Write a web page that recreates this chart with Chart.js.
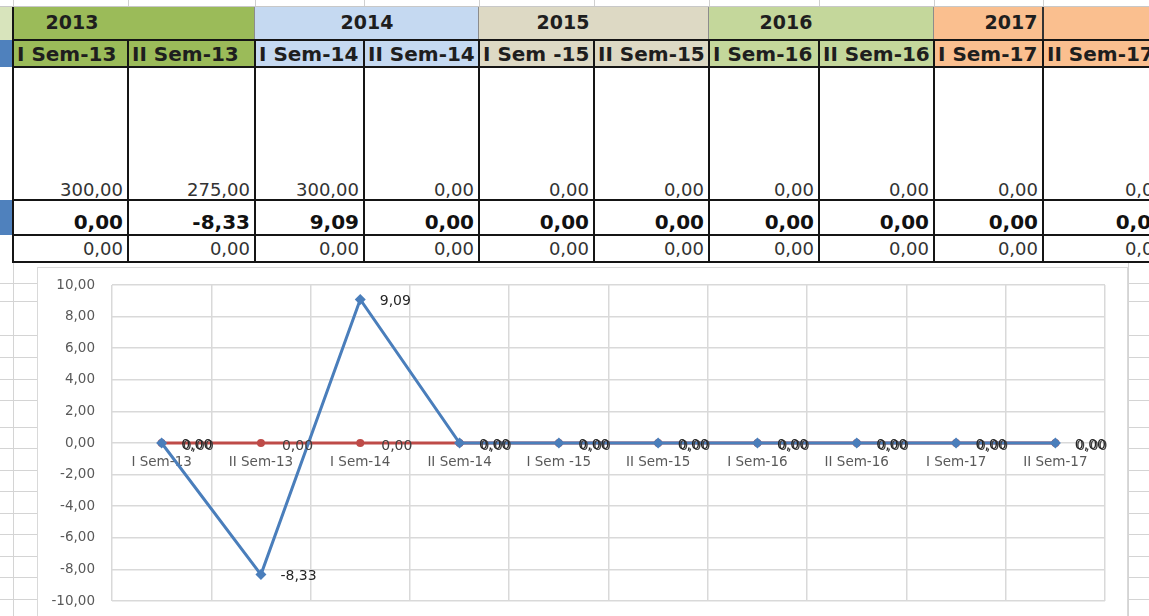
<!DOCTYPE html>
<html>
<head>
<meta charset="utf-8">
<script src="https://cdn.jsdelivr.net/npm/chart.js@4.4.1/dist/chart.umd.min.js"></script>
<style>
    html, body { margin: 0; padding: 0; background: #fff; }
    body { width: 1149px; height: 616px; overflow: hidden; position: relative; font-family: "DejaVu Sans", sans-serif; }
    .c { position: absolute; box-sizing: border-box; white-space: nowrap; overflow: hidden; }
    #chartBox { position: absolute; left: 37px; top: 267px; width: 1091px; height: 349px; box-sizing: border-box;
                border: 1px solid #d9d9d9; border-bottom: none; background: #fff; }
</style>
</head>
<body>
<div id="sheet"></div>
<div id="chartBox"><canvas id="trendChart"></canvas></div>
<script>
        // --- DATA ---
        const years = ['2013', '2014', '2015', '2016', '2017'];
        const semesters = ['I Sem-13', 'II Sem-13', 'I Sem-14', 'II Sem-14', 'I Sem -15',
                           'II Sem-15', 'I Sem-16', 'II Sem-16', 'I Sem-17', 'II Sem-17'];
        const baseValues   = [300, 275, 300, 0, 0, 0, 0, 0, 0, 0];
        const changeValues = [0, -8.33, 9.09, 0, 0, 0, 0, 0, 0, 0];
        const zeroValues   = [0, 0, 0, 0, 0, 0, 0, 0, 0, 0];
        const yMin = -10, yMax = 10, yStep = 2;

        // --- LAYOUT / STYLE (sheet) ---
        const colLeft  = [13, 128, 255, 364, 479, 594, 709, 819, 934, 1043];
        const colRight = [128, 255, 364, 479, 594, 709, 819, 934, 1043, 1170];
        const yearCells = [[13, 255], [255, 479], [479, 709], [709, 934], [934, 1043]];
        const yearTextCenter = [72, 367, 563, 786, 1011];
        const yearColors = ['#9bbb59', '#c5d9f1', '#ddd9c4', '#c4d79b', '#fabf8f'];
        const semYearIndex = [0, 0, 1, 1, 2, 2, 3, 3, 4, 4];
        const sheetRowLines = [283, 301, 335, 357, 379, 400, 427, 448, 470, 491, 513, 534, 556, 577, 599];

        const fmt = v => v.toFixed(2).replace('.', ',');
        const sheet = document.getElementById('sheet');

        function cell(x, y, w, h, css, text) {
            const d = document.createElement('div');
            d.className = 'c';
            Object.assign(d.style, { left: x + 'px', top: y + 'px', width: w + 'px', height: h + 'px' }, css || {});
            if (text != null) d.textContent = text;
            sheet.appendChild(d);
            return d;
        }

        // spreadsheet gridlines below the table
        sheetRowLines.forEach(y => {
            cell(0, y, 1149, 1, { background: '#d4d4d4' });
        });
        cell(13, 262, 1, 354, { background: '#d4d4d4' });
        cell(1128, 262, 1, 354, { background: '#d4d4d4' });

        // top strip (column header remains)
        colLeft.forEach(x => cell(x, 0, 1, 7, { background: '#d0d0d0' }));
        cell(0, 6, 1149, 1, { background: '#c8c8c8' });

        // left strip
        cell(0, 7, 13, 33, { background: '#d8e4bc' });
        cell(0, 40, 13, 27, { background: '#4f81bd' });
        cell(0, 200, 13, 35, { background: '#4f81bd' });

        // year row
        yearCells.forEach((r, i) => {
            cell(r[0], 7, r[1] - r[0], 33, { background: yearColors[i], borderRight: '1px solid #8c8c8c' });
            cell(yearTextCenter[i] - 50, 7, 100, 33,
                { textAlign: 'center', lineHeight: '31px', fontWeight: 'bold', fontSize: '19px', color: '#1e1e1e' }, years[i]);
        });
        cell(1043, 7, 120, 33, { background: yearColors[4] });
        cell(1042, 7, 2, 33, { background: '#333' });

        // semester header row + value rows
        semesters.forEach((s, i) => {
            const x = colLeft[i], w = colRight[i] - colLeft[i];
            cell(x, 40, w, 27, { background: yearColors[semYearIndex[i]] });
            cell(x + 4, 40, w - 4, 27,
                { lineHeight: '28px', fontWeight: 'bold', fontSize: '20px', color: '#1e1e1e' }, s);
            cell(x, 178, w - 5, 24, { textAlign: 'right', lineHeight: '24px', fontSize: '18px', color: '#333' }, fmt(baseValues[i]));
            cell(x, 210, w - 5, 24, { textAlign: 'right', lineHeight: '24px', fontSize: '20px', fontWeight: 'bold', color: '#111' }, fmt(changeValues[i]));
            cell(x, 237, w - 5, 24, { textAlign: 'right', lineHeight: '24px', fontSize: '18px', color: '#333' }, fmt(zeroValues[i]));
        });

        // table borders
        [40, 67, 200, 235, 262].forEach(y => cell(12, y - 1, 1149, 2, { background: '#151515' }));
        colLeft.forEach(x => cell(x - 1, 40, 2, 223, { background: '#151515' }));
        cell(12, 7, 2, 33, { background: '#151515' });

        // --- CHART ---
        const pointLabels = {
            id: 'pointLabels',
            afterDatasetsDraw(chart) {
                const ctx = chart.ctx;
                ctx.save();
                ctx.font = '14px "DejaVu Sans"';
                ctx.textAlign = 'left';
                ctx.textBaseline = 'middle';
                // label offsets [dx, dy] and colours per dataset
                const offs = [[19.5, 2], [21, 3]];
                const cols = ['#262626', '#404040'];
                [1, 0].forEach(i => {
                    const meta = chart.getDatasetMeta(i);
                    const data = chart.data.datasets[i].data;
                    ctx.fillStyle = cols[i];
                    meta.data.forEach((pt, j) => {
                        ctx.fillText(fmt(data[j]), pt.x + offs[i][0], pt.y + offs[i][1]);
                    });
                });
                ctx.restore();
            }
        };

        const ctx = document.getElementById('trendChart').getContext('2d');
        const trendChart = new Chart(ctx, {
            type: 'line',
            data: {
                labels: semesters,
                datasets: [{
                    data: changeValues,
                    borderColor: '#4a7ebb',
                    backgroundColor: '#4a7ebb',
                    borderWidth: 3,
                    pointStyle: 'rectRot',
                    pointRadius: 5.5,
                    pointBorderWidth: 0,
                    tension: 0
                }, {
                    data: zeroValues,
                    borderColor: '#be4b48',
                    backgroundColor: '#be4b48',
                    borderWidth: 3,
                    pointStyle: 'circle',
                    pointRadius: 4,
                    pointBorderWidth: 0,
                    tension: 0
                }]
            },
            options: {
                responsive: true,
                maintainAspectRatio: false,
                animation: false,
                layout: { padding: { top: 17, right: 22, bottom: 15, left: 0 } },
                plugins: {
                    legend: { display: false },
                    tooltip: { enabled: false }
                },
                scales: {
                    x: {
                        position: { y: 0 },
                        offset: true,
                        grid: { offset: true, color: '#d9d9d9', lineWidth: 1.5, drawTicks: false },
                        border: { display: false },
                        ticks: {
                            padding: 11,
                            maxRotation: 0,
                            autoSkip: false,
                            color: '#595959',
                            font: { family: '"DejaVu Sans"', size: 13.5 }
                        }
                    },
                    y: {
                        min: yMin,
                        max: yMax,
                        afterFit: s => { s.width = 74; },
                        grid: { color: '#d9d9d9', lineWidth: 1.5, drawTicks: true, tickLength: 15, tickColor: 'rgba(0,0,0,0)' },
                        border: { display: false },
                        ticks: {
                            stepSize: yStep,
                            padding: 2,
                            color: '#595959',
                            font: { family: '"DejaVu Sans"', size: 13.5 },
                            callback: v => fmt(v)
                        }
                    }
                }
            },
            plugins: [pointLabels]
        });
</script>
</body>
</html>
